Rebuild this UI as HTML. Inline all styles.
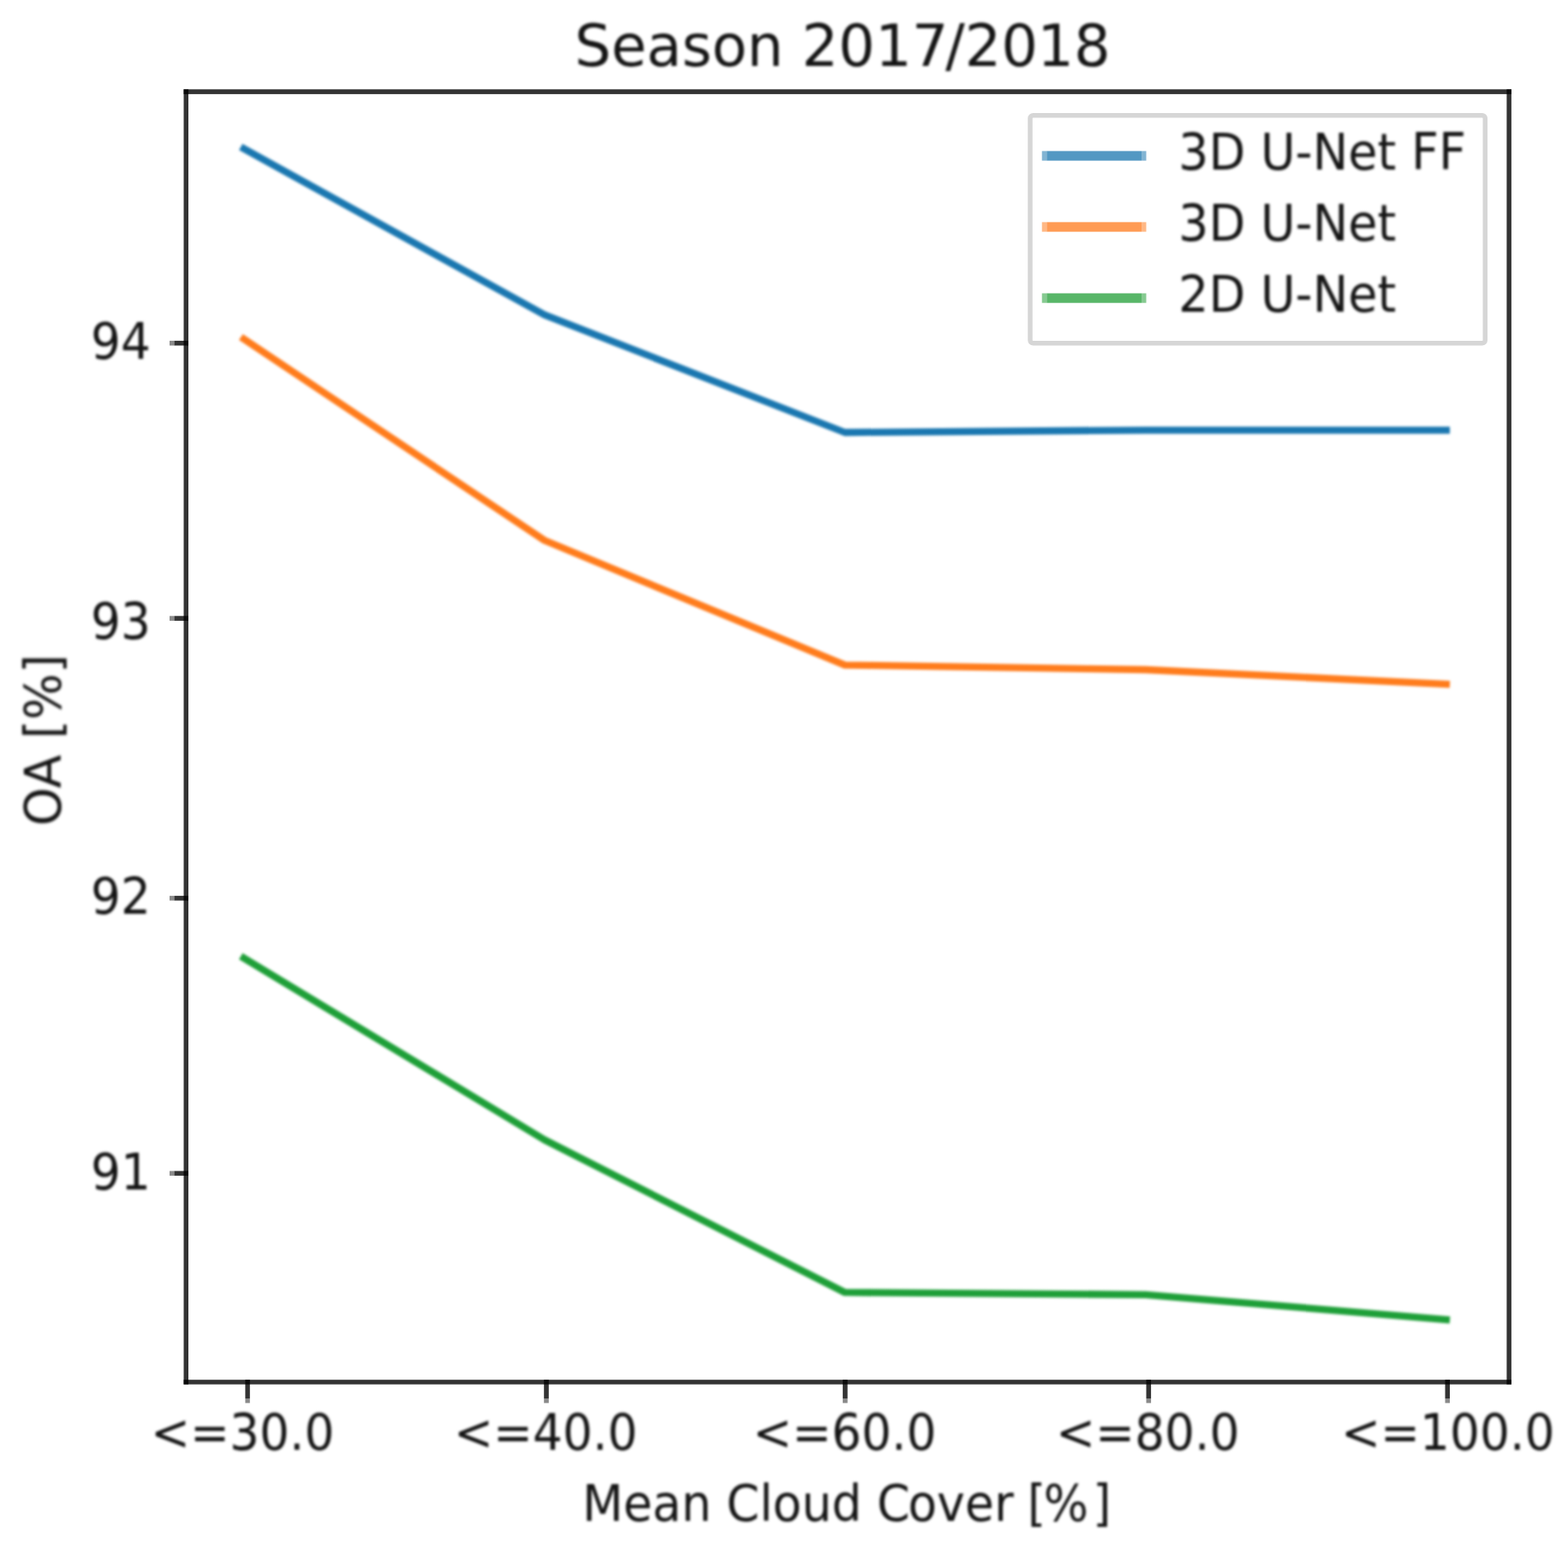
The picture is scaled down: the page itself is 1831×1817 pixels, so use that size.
<!DOCTYPE html>
<html lang="en">
<head>
<meta charset="utf-8">
<title>Season 2017/2018</title>
<style>
html,body{margin:0;padding:0;background:#fff;}
body{width:1831px;height:1817px;overflow:hidden;}
svg{display:block;}
text{font-family:"DejaVu Sans", "Liberation Sans", sans-serif;fill:#141414;}
</style>
</head>
<body>
<svg width="1831" height="1817" viewBox="0 0 1831 1817">
<defs>
<filter id="softLines" filterUnits="userSpaceOnUse" x="0" y="0" width="1831" height="1817" color-interpolation-filters="sRGB"><feGaussianBlur stdDeviation="1.8"/></filter>
<filter id="softText" filterUnits="userSpaceOnUse" x="0" y="0" width="1831" height="1817" color-interpolation-filters="sRGB"><feGaussianBlur stdDeviation="1.5"/></filter>
</defs>
<rect x="0" y="0" width="1831" height="1817" fill="#ffffff"/>

<g id="lines" filter="url(#softLines)">
<polyline points="284.8,173.7 635.8,367.6 986.6,505.0 1337.7,502.3 1688.9,502.3" fill="none" stroke="#1a77b0" stroke-width="8.3" stroke-linecap="square" stroke-linejoin="round"/>
<polyline points="284.8,395.9 635.8,631.0 986.6,776.6 1337.7,782.0 1688.9,799.0" fill="none" stroke="#ff7c1c" stroke-width="8.3" stroke-linecap="square" stroke-linejoin="round"/>
<polyline points="284.8,1118.8 635.8,1331.0 986.6,1509.2 1337.7,1511.8 1688.9,1541.0" fill="none" stroke="#1e9f38" stroke-width="8.3" stroke-linecap="square" stroke-linejoin="round"/>
</g>
<g id="axes">
<rect x="286.40" y="1611.20" width="5.40" height="21.80" fill="#000" fill-opacity="0.8"/>
<rect x="286.40" y="1633.00" width="5.40" height="5.40" fill="#000" fill-opacity="0.46"/>
<rect x="635.20" y="1611.20" width="5.60" height="21.80" fill="#000" fill-opacity="0.8"/>
<rect x="635.20" y="1633.00" width="5.60" height="5.40" fill="#000" fill-opacity="0.46"/>
<rect x="984.10" y="1611.20" width="5.60" height="21.80" fill="#000" fill-opacity="0.8"/>
<rect x="984.10" y="1633.00" width="5.60" height="5.40" fill="#000" fill-opacity="0.46"/>
<rect x="1338.50" y="1611.20" width="5.60" height="21.80" fill="#000" fill-opacity="0.8"/>
<rect x="1338.50" y="1633.00" width="5.60" height="5.40" fill="#000" fill-opacity="0.46"/>
<rect x="1687.50" y="1611.20" width="5.50" height="21.80" fill="#000" fill-opacity="0.8"/>
<rect x="1687.50" y="1633.00" width="5.50" height="5.40" fill="#000" fill-opacity="0.46"/>
<rect x="203.50" y="397.90" width="16.50" height="5.60" fill="#000" fill-opacity="0.8"/>
<rect x="198.00" y="397.90" width="5.50" height="5.60" fill="#000" fill-opacity="0.46"/>
<rect x="203.50" y="719.30" width="16.50" height="5.60" fill="#000" fill-opacity="0.8"/>
<rect x="198.00" y="719.30" width="5.50" height="5.60" fill="#000" fill-opacity="0.46"/>
<rect x="203.50" y="1046.10" width="16.50" height="5.50" fill="#000" fill-opacity="0.8"/>
<rect x="198.00" y="1046.10" width="5.50" height="5.50" fill="#000" fill-opacity="0.46"/>
<rect x="203.50" y="1367.40" width="16.50" height="5.50" fill="#000" fill-opacity="0.8"/>
<rect x="198.00" y="1367.40" width="5.50" height="5.50" fill="#000" fill-opacity="0.46"/>
<rect x="214.50" y="104.30" width="5.50" height="1512.30" fill="#000" fill-opacity="0.8"/>
<rect x="1759.40" y="104.30" width="5.50" height="1512.30" fill="#000" fill-opacity="0.8"/>
<rect x="214.50" y="104.30" width="1550.40" height="5.60" fill="#000" fill-opacity="0.8"/>
<rect x="214.50" y="1611.20" width="1550.40" height="5.40" fill="#000" fill-opacity="0.8"/>
</g>
<g id="legend">
<rect x="1202.95" y="134.75" width="531.30" height="266.10" rx="3.5" ry="3.5" fill="#ffffff" stroke="#d6d6d6" stroke-width="5.5"/>
<rect x="1222.20" y="176.40" width="110.80" height="11.20" fill="#5398c3"/>
<rect x="1216.70" y="176.40" width="5.50" height="11.20" fill="#82b4d3"/>
<rect x="1333.00" y="176.40" width="5.50" height="11.20" fill="#82b4d3"/>
<rect x="1222.20" y="259.40" width="110.80" height="11.20" fill="#ff9b54"/>
<rect x="1216.70" y="259.40" width="5.50" height="11.20" fill="#ffb885"/>
<rect x="1333.00" y="259.40" width="5.50" height="11.20" fill="#ffb885"/>
<rect x="1222.20" y="342.50" width="110.80" height="11.20" fill="#58b668"/>
<rect x="1216.70" y="342.50" width="5.50" height="11.20" fill="#86ca91"/>
<rect x="1333.00" y="342.50" width="5.50" height="11.20" fill="#86ca91"/>
</g>
<g id="labels" filter="url(#softText)">
<text id="title" transform="translate(671.00,76.80) scale(0.9900,1)" font-size="67.9" dx="0 0 0 0 0 0 0 0 0 0 0 -3.5 0 0 -0.8">Season 2017/2018</text>
<text id="xlabel" transform="translate(680.00,1776.40) scale(0.9474,1)" font-size="58.4" dx="0 0 0 0 0 0 0 0 0 0 0 0 -2.5 0 0 0 -1.5 0 -3 5">Mean Cloud Cover [%]</text>
<text id="ylabel" transform="translate(70.80,964.50) rotate(-90) scale(0.9811,1)" font-size="58.4">OA [%]</text>
<text id="xt0" transform="translate(176.00,1693.40) scale(0.9412,1)" font-size="58.4">&lt;=30.0</text>
<text id="xt1" transform="translate(530.00,1693.40) scale(0.9412,1)" font-size="58.4">&lt;=40.0</text>
<text id="xt2" transform="translate(879.00,1693.40) scale(0.9412,1)" font-size="58.4">&lt;=60.0</text>
<text id="xt3" transform="translate(1233.00,1693.40) scale(0.9412,1)" font-size="58.4">&lt;=80.0</text>
<text id="xt4" transform="translate(1566.00,1693.40) scale(0.9412,1)" font-size="58.4">&lt;=100.0</text>
<text id="yt94" transform="translate(106.00,419.40) scale(0.9412,1)" font-size="58.4">94</text>
<text id="yt93" transform="translate(106.00,746.30) scale(0.9412,1)" font-size="58.4">93</text>
<text id="yt92" transform="translate(106.00,1067.30) scale(0.9412,1)" font-size="58.4">92</text>
<text id="yt91" transform="translate(106.00,1388.80) scale(0.9412,1)" font-size="58.4">91</text>
<text id="lg0" transform="translate(1376.00,198.10) scale(0.9525,1)" font-size="58.4">3D U-Net FF</text>
<text id="lg1" transform="translate(1376.00,281.10) scale(0.9525,1)" font-size="58.4">3D U-Net</text>
<text id="lg2" transform="translate(1376.00,364.10) scale(0.9525,1)" font-size="58.4">2D U-Net</text>
</g>
</svg>
</body>
</html>
